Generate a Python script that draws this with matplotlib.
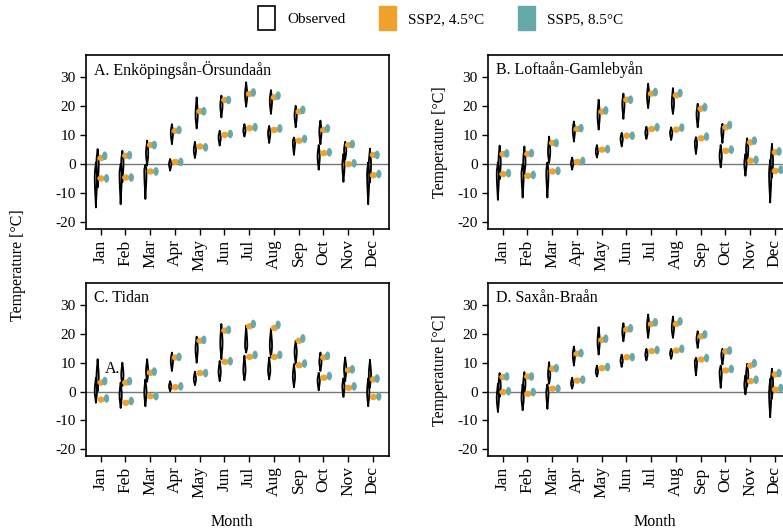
import numpy as np
import matplotlib
matplotlib.use("Agg")
import matplotlib.pyplot as plt
from matplotlib.patches import Patch

months = ["Jan", "Feb", "Mar", "Apr", "May", "Jun", "Jul", "Aug", "Sep", "Oct", "Nov", "Dec"]
sites = ["A. Enköpingsån-Örsundaån", "B. Loftaån-Gamlebyån", "C. Tidan", "D. Saxån-Braån"]

# observed violins: (low, peak, high) per month, upper = Tmax, lower = Tmin
A_obs_tmax = [(-7.8, 1, 5.4), (-6, 1, 4.8), (-0.3, 4, 8.3), (7.1, 11, 14), (12.5, 17, 23.2), (16.3, 20.5, 23.8),
              (20, 24, 28.4), (17.5, 22, 25.7), (12.9, 17, 20.3), (7.1, 11.5, 15.2), (1.7, 5, 7.9), (-6.1, 0, 5.6)]
A_obs_tmin = [(-14.7, -4, 0.8), (-13.6, -3, 0.2), (-11.8, -2, 0), (-2, 0.3, 2), (2.3, 5, 7.9), (6.6, 9.5, 11.7),
              (9.7, 11.7, 14), (7.5, 11, 13.4), (3.4, 8, 9.4), (-1.7, 3, 6.8), (-5.9, 0, 3.7), (-13.6, -3, 0.8)]
A_ssp2_tmax = [2.3, 3.1, 6.8, 11.7, 18.4, 22.3, 24.4, 23.2, 18.3, 12, 6.8, 3.4]
A_ssp2_tmin = [-4.7, -4.4, -2.3, 1, 6.3, 10.3, 12.6, 12, 8.3, 4, 0.2, -3.6]
A_ssp5_tmax = [3.1, 3.3, 6.8, 12, 18.4, 22.3, 24.9, 23.8, 18.9, 12.5, 7.1, 3.4]
A_ssp5_tmin = [-4.7, -4.4, -2.3, 1, 6, 10.6, 12.9, 12.5, 8.9, 4.3, 0.5, -3.2]

B_obs_tmax = [(-5, 1, 6.6), (-3.2, 1, 6.3), (0.6, 4.5, 9.7), (8, 12, 14.9), (12.1, 17, 22.4), (15.8, 21, 24.5),
              (19.5, 23.5, 27.9), (17.5, 21, 26.4), (12.9, 17.5, 21), (7.5, 12, 14.1), (1, 5.5, 9.1), (-4.4, 1, 7.2)]
B_obs_tmin = [(-12.1, -3, 0.8), (-11.3, -3, 0.2), (-11.3, -2.5, 0.8), (-1.7, 0.5, 2.5), (2.5, 4.5, 6.8), (6.3, 9, 11),
              (8.9, 11, 13.1), (8.5, 11, 12.9), (3.7, 7.5, 9.5), (-0.9, 3, 6.8), (-3.8, 0.5, 3.7), (-13, -3, 1.7)]
B_ssp2_tmax = [3.7, 3.7, 7.5, 12.3, 18.3, 22.4, 24.5, 23.9, 19.3, 12.9, 7.7, 4.3]
B_ssp2_tmin = [-3.2, -3.8, -2.3, 1, 5.2, 10, 12.3, 12.1, 9.1, 4.8, 1.4, -2.1]
B_ssp5_tmax = [3.9, 4, 7.5, 12.6, 18.7, 22.4, 25, 24.7, 19.8, 13.7, 8.3, 4.6]
B_ssp5_tmin = [-2.9, -3.5, -2.1, 1.3, 5.4, 10, 12.9, 12.8, 9.7, 5.2, 1.7, -1.7]

C_obs_tmax = [(0.3, 5, 11.4), (2.1, 6, 10.2), (3.6, 7, 11.4), (7.3, 11, 13.7), (10.2, 15, 19.2), (11.4, 17, 23.6),
              (13.7, 16, 23), (12, 16, 21.9), (9.7, 14, 17.8), (7.3, 10.5, 13.7), (3.8, 8, 12), (1.5, 6, 11.2)]
C_obs_tmin = [(-3.7, 0.5, 5), (-5.5, -1, 3.3), (-4.9, 0, 4.4), (0.3, 2, 3.8), (2.4, 4.5, 7.1), (3.8, 7, 10.8),
              (4.1, 7.5, 12.6), (4.4, 7.5, 12), (1.7, 5.5, 9.7), (0.6, 4, 6.7), (-1.7, 2, 4.8), (-4.9, 0, 4.8)]
C_ssp2_tmax = [3.3, 3.3, 6.7, 12, 17.8, 21.3, 22.8, 22.2, 17.8, 12, 7.6, 4.4]
C_ssp2_tmin = [-2.6, -3.7, -1.4, 1.7, 6.6, 10.5, 12.2, 12.2, 9.3, 5, 1.5, -1.7]
C_ssp5_tmax = [3.8, 3.8, 7.1, 12.2, 18.1, 21.6, 23.6, 23.3, 18.6, 12.6, 7.9, 4.7]
C_ssp5_tmin = [-2.2, -3.1, -1.4, 2, 6.6, 10.7, 12.9, 12.9, 9.9, 5.6, 2, -1.5]

D_obs_tmax = [(-1.7, 2, 6.6), (-0.6, 3, 6.9), (2.9, 6, 10.4), (9.2, 13, 15.8), (13, 17.5, 22.5), (17.6, 21, 23.9),
              (18.8, 23, 26.9), (18.8, 22, 26.2), (15.3, 18.5, 21.1), (9.6, 13, 15), (2, 6, 9.8), (-2.3, 3, 8.1)]
D_obs_tmin = [(-6.9, -2, 2.9), (-6.3, -2, 2.7), (-5.8, 0, 2.7), (1.2, 3, 5), (5.4, 7, 9.2), (8.7, 11, 13),
              (11, 13, 15), (11.5, 13.5, 15), (5.8, 10.5, 11.9), (1.5, 7, 9.2), (-0.8, 2.5, 5.8), (-8.7, -0.5, 4.6)]
D_ssp2_tmax = [5.2, 5.4, 8.1, 13.3, 18.1, 21.7, 23.6, 23.6, 19.3, 14.1, 9.2, 6.1]
D_ssp2_tmin = [0, -0.6, 1.2, 4, 8.3, 12.1, 14.2, 14.4, 11.3, 7.5, 3.8, 0.9]
D_ssp5_tmax = [5.4, 5.4, 8.3, 13.5, 18.5, 22.1, 24.2, 24.5, 20, 14.4, 10, 6.6]
D_ssp5_tmin = [0.3, 0, 1.2, 4.3, 8.7, 12.1, 14.6, 15, 11.8, 8, 4.3, 1.4]

panels = [
    (A_obs_tmax, A_obs_tmin, A_ssp2_tmax, A_ssp2_tmin, A_ssp5_tmax, A_ssp5_tmin),
    (B_obs_tmax, B_obs_tmin, B_ssp2_tmax, B_ssp2_tmin, B_ssp5_tmax, B_ssp5_tmin),
    (C_obs_tmax, C_obs_tmin, C_ssp2_tmax, C_ssp2_tmin, C_ssp5_tmax, C_ssp5_tmin),
    (D_obs_tmax, D_obs_tmin, D_ssp2_tmax, D_ssp2_tmin, D_ssp5_tmax, D_ssp5_tmin),
]

c_ssp2 = '#EFA22B'
c_ssp5 = '#67A9A9'

plt.rcParams['font.family'] = ['Liberation Serif', 'DejaVu Serif']
plt.rcParams['axes.unicode_minus'] = False


def violin(ax, x, lo, mid, hi, w, fc, ec, lw, p=1.3):
    # simple violin outline: widest at mid, tapering to lo and hi
    y = np.linspace(lo, hi, 80)
    t = np.where(y < mid, (y - lo) / max(mid - lo, 1e-6), (hi - y) / max(hi - mid, 1e-6))
    hw = w * np.sin(np.pi / 2 * np.clip(t, 0, 1)) ** p
    ax.fill_betweenx(y, x - hw, x + hw, facecolor=fc, edgecolor=ec, linewidth=lw, zorder=3)


fig = plt.figure(figsize=(7.83, 5.32), dpi=100)
positions = [[0.1098, 0.5695, 0.387, 0.327], [0.6232, 0.5695, 0.387, 0.327],
             [0.1098, 0.1429, 0.387, 0.325], [0.6232, 0.1429, 0.387, 0.325]]

for k, (pos, data) in enumerate(zip(positions, panels)):
    ax = fig.add_axes(pos)
    obs_hi, obs_lo, s2_hi, s2_lo, s5_hi, s5_lo = data
    ax.axhline(0, color='#777777', linewidth=1.0, zorder=1)
    for i in range(12):
        x = i + 1
        violin(ax, x - 0.21, *obs_lo[i], 0.045, 'white', 'black', 1.3)
        violin(ax, x - 0.14, *obs_hi[i], 0.045, 'white', 'black', 1.3)
        for v in (s2_hi[i], s2_lo[i]):
            violin(ax, x, v - 0.9, v, v + 0.9, 0.13, c_ssp2, c_ssp2, 0.8, p=0.5)
        violin(ax, x + 0.15, s5_hi[i] - 1.3, s5_hi[i], s5_hi[i] + 1.3, 0.085, c_ssp5, c_ssp5, 0.8, p=0.5)
        violin(ax, x + 0.22, s5_lo[i] - 1.3, s5_lo[i], s5_lo[i] + 1.3, 0.085, c_ssp5, c_ssp5, 0.8, p=0.5)
    ax.set_xlim(0.41, 12.65)
    ax.set_ylim(-22.3, 37.6)
    ax.set_yticks([-20, -10, 0, 10, 20, 30])
    ax.set_xticks(range(1, 13))
    ax.set_xticklabels(months, rotation=90, fontsize=12.5)
    ax.tick_params(axis='y', labelsize=11, direction='out', length=4, width=1)
    ax.tick_params(axis='x', direction='out', length=4, width=1)
    for s in ax.spines.values():
        s.set_linewidth(1.2)
    ax.text(0.025, 0.915, sites[k], transform=ax.transAxes, fontsize=11.5, va='center', ha='left')
    if k == 2:
        ax.text(1.18, 7.9, "A.", fontsize=11.5, va='center', ha='left')

fig.text(0.023, 0.502, 'Temperature [°C]', rotation=90, fontsize=11.5, va='center', ha='center')
fig.text(0.562, 0.733, 'Temperature [°C]', rotation=90, fontsize=11.5, va='center', ha='center')
fig.text(0.562, 0.305, 'Temperature [°C]', rotation=90, fontsize=11.5, va='center', ha='center')
fig.text(0.296, 0.019, 'Month', fontsize=11.5, ha='center', va='center')
fig.text(0.8365, 0.019, 'Month', fontsize=11.5, ha='center', va='center')

handles = [Patch(facecolor='white', edgecolor='black', linewidth=1.2, label='Observed'),
           Patch(facecolor=c_ssp2, edgecolor=c_ssp2, label='SSP2, 4.5\u00b0C'),
           Patch(facecolor=c_ssp5, edgecolor=c_ssp5, label='SSP5, 8.5\u00b0C')]
fig.legend(handles=handles, loc='center', bbox_to_anchor=(0.563, 0.966), ncol=3, frameon=False,
           fontsize=11, handlelength=1.1, handleheight=2.0, columnspacing=2.2, handletextpad=0.8)

fig.savefig('out.png', dpi=100)
